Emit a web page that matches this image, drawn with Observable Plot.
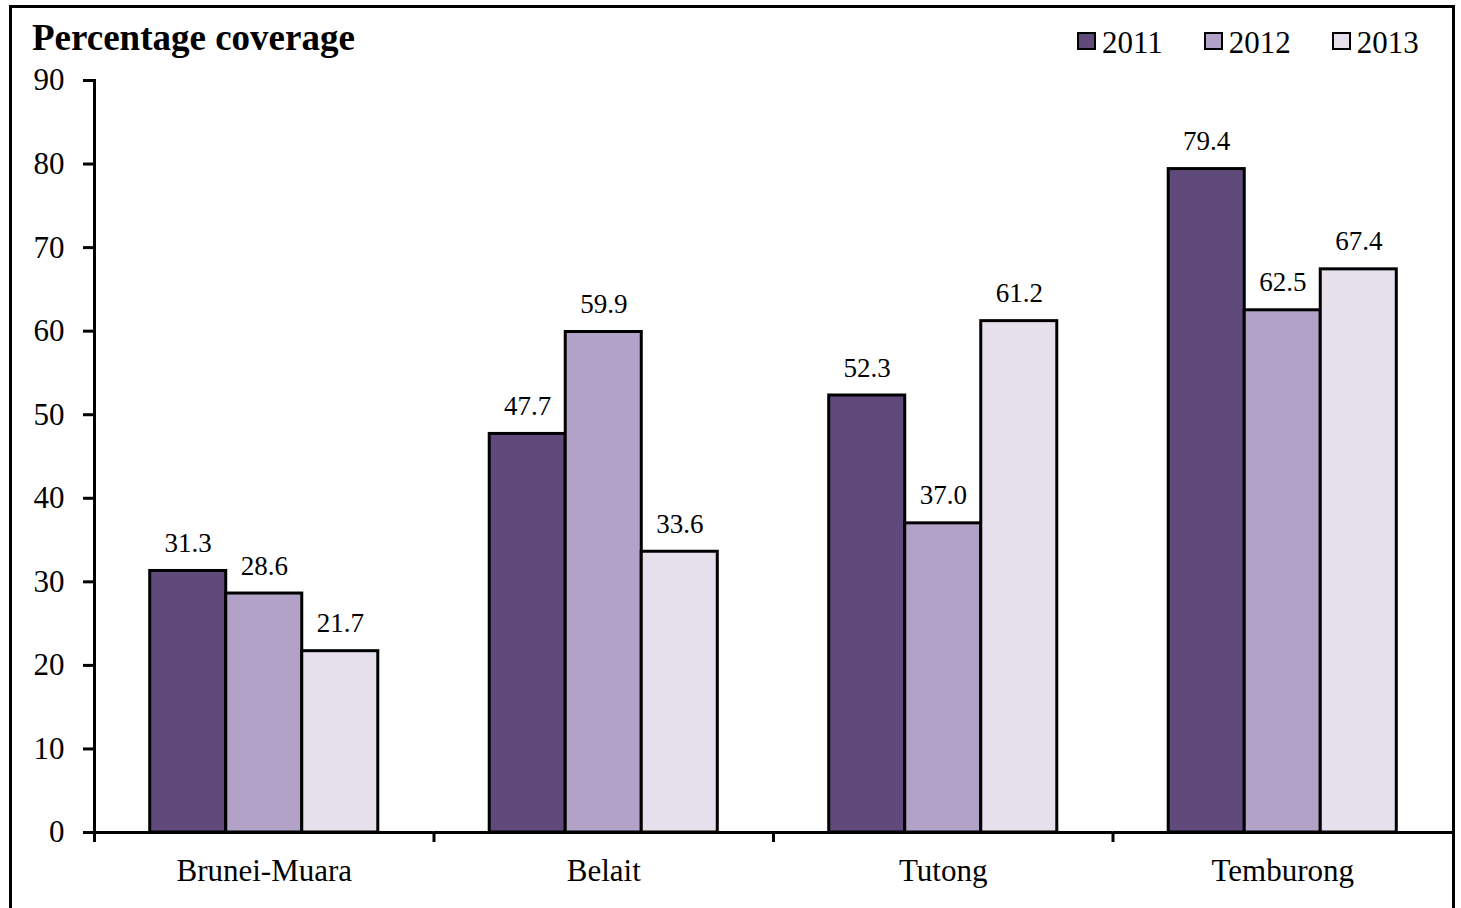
<!DOCTYPE html>
<html>
<head>
<meta charset="utf-8">
<script src="https://cdn.jsdelivr.net/npm/d3@7"></script>
<script src="https://cdn.jsdelivr.net/npm/@observablehq/plot@0.6"></script>
<style>
  body { margin: 0; background: #fff; font-family: "Liberation Serif", "Times New Roman", serif; }
  #frame { position: absolute; left: 9px; top: 5px; width: 1440px; border: 3px solid #000; border-bottom: none; background: #fff; }
  #header { position: relative; height: 52px; }
  #title { position: absolute; left: 20px; top: 11px; font-size: 37px; font-weight: bold; line-height: 1; white-space: nowrap; color: #000; }
  #legend { position: absolute; left: 1065px; top: 19px; font-size: 31px; line-height: 1; white-space: nowrap; color: #000; }
  .item { display: inline-block; margin-right: 41px; }
  .sw { display: inline-block; width: 19px; height: 18px; box-sizing: border-box; border: 2.5px solid #000; margin-right: 6px; vertical-align: 3px; }
  #chart svg { display: block; }
</style>
</head>
<body>
<div id="frame">
  <div id="header">
    <div id="title">Percentage coverage</div>
    <div id="legend"></div>
  </div>
  <div id="chart"></div>
</div>
<script>
const categories = ["Brunei-Muara", "Belait", "Tutong", "Temburong"];
const years = ["2011", "2012", "2013"];
const colors = ["#604A7B", "#B3A2C7", "#E6E0EC"];
const values2011 = [31.3, 47.7, 52.3, 79.4];
const values2012 = [28.6, 59.9, 37.0, 62.5];
const values2013 = [21.7, 33.6, 61.2, 67.4];
const yTicks = [0, 10, 20, 30, 40, 50, 60, 70, 80, 90];

const series = [values2011, values2012, values2013];
const data = categories.flatMap((c, i) => years.map((yr, j) => ({region: c, year: yr, value: series[j][i]})));

// legend
const legend = document.getElementById("legend");
years.forEach((yr, j) => {
  const item = document.createElement("span");
  item.className = "item";
  const sw = document.createElement("span");
  sw.className = "sw";
  sw.style.background = colors[j];
  item.appendChild(sw);
  item.appendChild(document.createTextNode(yr));
  legend.appendChild(item);
});

const W = 1440, H = 848, mL = 82, mR = 0, mT = 20, mB = 76;
const step = (W - mL - mR) / categories.length;

const chart = Plot.plot({
  width: W, height: H,
  marginLeft: mL, marginRight: mR, marginTop: mT, marginBottom: mB,
  style: {fontFamily: '"Liberation Serif", "Times New Roman", serif', fontSize: "31px", color: "#000", background: "transparent", overflow: "visible"},
  fx: {domain: categories, padding: 0, round: false},
  x: {domain: years, paddingInner: 0, paddingOuter: 0.733, round: false, axis: null},
  y: {domain: [0, 90]},
  color: {domain: years, range: colors},
  marks: [
    Plot.barY(data, {fx: "region", x: "year", y: "value", fill: "year", stroke: "#000", strokeWidth: 3}),
    Plot.text(data, {fx: "region", x: "year", y: "value", text: d => d.value.toFixed(1), lineAnchor: "bottom", dy: -19, fontSize: 27, fill: "#000"}),
    Plot.ruleY([0], {stroke: "#000", strokeWidth: 3}),
    Plot.frame({anchor: "left", facetAnchor: "left", stroke: "#000", strokeWidth: 3}),
    Plot.axisY({ticks: yTicks, tickSize: 11, tickPadding: 19, strokeWidth: 3, fontSize: 31, label: null, fill: "#000", stroke: "#000"}),
    Plot.axisFx({anchor: "bottom", tickSize: 0, tickPadding: 26, fontSize: 31, label: null, fill: "#000"}),
    Plot.axisFx({anchor: "bottom", tickSize: 10, strokeWidth: 3, text: null, label: null, stroke: "#000", dx: -step / 2})
  ]
});
document.getElementById("chart").appendChild(chart);
</script>
</body>
</html>
